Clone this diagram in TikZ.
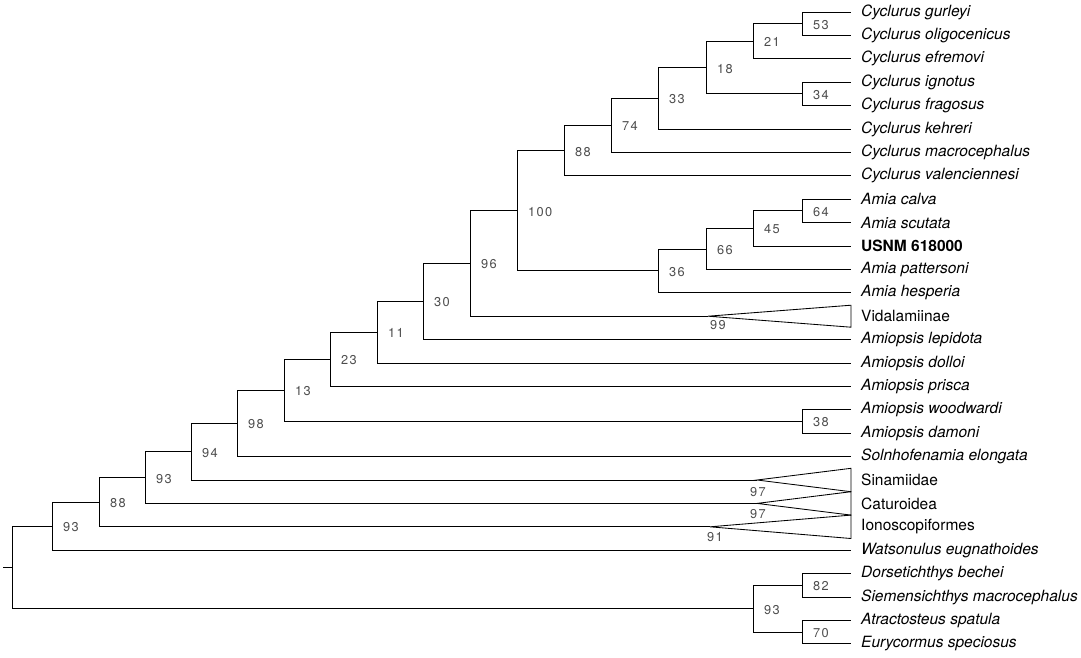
\documentclass[tikz,border=0pt]{standalone}
\usepackage{fontspec}
\setmainfont{TeX Gyre Heros}
\newfontfamily\bootfont[LetterSpace=10]{TeX Gyre Heros}
\begin{document}
\begin{tikzpicture}[x=1pt,y=-23.4pt,
  br/.style={line width=0.85pt, black},
  tri/.style={line width=0.85pt, black, line join=miter},
  taxon/.style={anchor=west, inner sep=0pt, font=\fontsize{15.5}{17}\selectfont\itshape},
  grp/.style={anchor=west, inner sep=0pt, font=\fontsize{15.5}{17}\selectfont},
  usnm/.style={anchor=west, inner sep=0pt, font=\fontsize{15.5}{17}\selectfont\bfseries},
  bs/.style={anchor=west, inner sep=0pt, text=black!70, font=\bootfont\fontsize{12.8}{14}\selectfont, xshift=11pt, yshift=-1pt},
  tbs/.style={anchor=west, inner sep=0pt, text=black!70, font=\bootfont\fontsize{12.8}{14}\selectfont}]
\useasboundingbox (0,-0.51282) rectangle (1081,27.5641);

% leaf tips
\foreach \r in {0,...,27} { \coordinate (t\r) at (851,\r); }

% leaf labels
\node[taxon] (l0)  at (861,0)  {Cyclurus gurleyi};
\node[taxon] (l1)  at (861,1)  {Cyclurus oligocenicus};
\node[taxon] (l2)  at (861,2)  {Cyclurus efremovi};
\node[taxon] (l3)  at (861,3)  {Cyclurus ignotus};
\node[taxon] (l4)  at (861,4)  {Cyclurus fragosus};
\node[taxon] (l5)  at (861,5)  {Cyclurus kehreri};
\node[taxon] (l6)  at (861,6)  {Cyclurus macrocephalus};
\node[taxon] (l7)  at (861,7)  {Cyclurus valenciennesi};
\node[taxon] (l8)  at (861,8)  {Amia calva};
\node[taxon] (l9)  at (861,9)  {Amia scutata};
\node[usnm]  (l10) at (861,10) {USNM 618000};
\node[taxon] (l11) at (861,11) {Amia pattersoni};
\node[taxon] (l12) at (861,12) {Amia hesperia};
\node[grp]   (l13) at (861,13) {Vidalamiinae};
\node[taxon] (l14) at (861,14) {Amiopsis lepidota};
\node[taxon] (l15) at (861,15) {Amiopsis dolloi};
\node[taxon] (l16) at (861,16) {Amiopsis prisca};
\node[taxon] (l17) at (861,17) {Amiopsis woodwardi};
\node[taxon] (l18) at (861,18) {Amiopsis damoni};
\node[taxon] (l19) at (861,19) {Solnhofenamia elongata};
\node[grp]   (l20) at (861,20) {Sinamiidae};
\node[grp]   (l21) at (861,21) {Caturoidea};
\node[grp]   (l22) at (861,22) {Ionoscopiformes};
\node[taxon] (l23) at (861,23) {Watsonulus eugnathoides};
\node[taxon] (l24) at (861,24) {Dorsetichthys bechei};
\node[taxon] (l25) at (861,25) {Siemensichthys macrocephalus};
\node[taxon] (l26) at (861,26) {Atractosteus spatula};
\node[taxon] (l27) at (861,27) {Eurycormus speciosus};

% internal nodes
\coordinate (n53)  at (802,0.5);
\coordinate (n21)  at (753,1.25);
\coordinate (n34)  at (802,3.5);
\coordinate (n18)  at (706,2.375);
\coordinate (n33)  at (658,3.6875);
\coordinate (n74)  at (611,4.84375);
\coordinate (n88a) at (564,5.921875);
\coordinate (n64)  at (802,8.5);
\coordinate (n45)  at (753,9.25);
\coordinate (n66)  at (706,10.125);
\coordinate (n36)  at (658,11.0625);
\coordinate (n100) at (517,8.4922);
\coordinate (vid)  at (708,13);
\coordinate (n96)  at (470,10.7461);
\coordinate (n30)  at (423,12.373);
\coordinate (n11)  at (377,13.6865);
\coordinate (n23)  at (330,14.8433);
\coordinate (n38)  at (802,17.5);
\coordinate (n13)  at (284,16.1716);
\coordinate (n98)  at (237,17.5858);
\coordinate (sin)  at (757,20);
\coordinate (n94)  at (191,18.7929);
\coordinate (cat)  at (757,21);
\coordinate (n93b) at (145,19.8965);
\coordinate (iono) at (710,22);
\coordinate (n88b) at (99,20.9482);
\coordinate (n93c) at (52,21.9741);
\coordinate (n82)  at (802,24.5);
\coordinate (n70)  at (802,26.5);
\coordinate (n93d) at (753,25.5);
\coordinate (root) at (12,23.737);
\coordinate (stub) at (3,23.737);

% triangle corners
\coordinate (vidA) at (851,12.53);
\coordinate (vidB) at (851,13.47);
\coordinate (sinA) at (851,19.5);
\coordinate (sinB) at (851,20.5);
\coordinate (catA) at (851,20.5);
\coordinate (catB) at (851,21.5);
\coordinate (ionA) at (851,21.5);
\coordinate (ionB) at (851,22.5);

% branches
\draw[br] (n53) |- (t0);   \draw[br] (n53) |- (t1);
\draw[br] (n21) |- (n53);  \draw[br] (n21) |- (t2);
\draw[br] (n34) |- (t3);   \draw[br] (n34) |- (t4);
\draw[br] (n18) |- (n21);  \draw[br] (n18) |- (n34);
\draw[br] (n33) |- (n18);  \draw[br] (n33) |- (t5);
\draw[br] (n74) |- (n33);  \draw[br] (n74) |- (t6);
\draw[br] (n88a) |- (n74); \draw[br] (n88a) |- (t7);
\draw[br] (n64) |- (t8);   \draw[br] (n64) |- (t9);
\draw[br] (n45) |- (n64);  \draw[br] (n45) |- (t10);
\draw[br] (n66) |- (n45);  \draw[br] (n66) |- (t11);
\draw[br] (n36) |- (n66);  \draw[br] (n36) |- (t12);
\draw[br] (n100) |- (n88a); \draw[br] (n100) |- (n36);
\draw[br] (n96) |- (n100); \draw[br] (n96) |- (vid);
\draw[br] (n30) |- (n96);  \draw[br] (n30) |- (t14);
\draw[br] (n11) |- (n30);  \draw[br] (n11) |- (t15);
\draw[br] (n23) |- (n11);  \draw[br] (n23) |- (t16);
\draw[br] (n38) |- (t17);  \draw[br] (n38) |- (t18);
\draw[br] (n13) |- (n23);  \draw[br] (n13) |- (n38);
\draw[br] (n98) |- (n13);  \draw[br] (n98) |- (t19);
\draw[br] (n94) |- (n98);  \draw[br] (n94) |- (sin);
\draw[br] (n93b) |- (n94); \draw[br] (n93b) |- (cat);
\draw[br] (n88b) |- (n93b); \draw[br] (n88b) |- (iono);
\draw[br] (n93c) |- (n88b); \draw[br] (n93c) |- (t23);
\draw[br] (n82) |- (t24);  \draw[br] (n82) |- (t25);
\draw[br] (n70) |- (t26);  \draw[br] (n70) |- (t27);
\draw[br] (n93d) |- (n82); \draw[br] (n93d) |- (n70);
\draw[br] (root) |- (n93c); \draw[br] (root) |- (n93d);
\draw[br] (stub) -- (root);

% collapsed clades
\draw[tri] (vid) -- (vidA) -- (vidB) -- cycle;
\draw[tri] (sin) -- (sinA) -- (sinB) -- cycle;
\draw[tri] (cat) -- (catA) -- (catB) -- cycle;
\draw[tri] (iono) -- (ionA) -- (ionB) -- cycle;

% support values
\node[bs] (b53)  at (n53)  {53};
\node[bs] (b21)  at (n21)  {21};
\node[bs] (b34)  at (n34)  {34};
\node[bs] (b18)  at (n18)  {18};
\node[bs] (b33)  at (n33)  {33};
\node[bs] (b74)  at (n74)  {74};
\node[bs] (b88a) at (n88a) {88};
\node[bs] (b64)  at (n64)  {64};
\node[bs] (b45)  at (n45)  {45};
\node[bs] (b66)  at (n66)  {66};
\node[bs] (b36)  at (n36)  {36};
\node[bs] (b100) at (n100) {100};
\node[bs] (b96)  at (n96)  {96};
\node[bs] (b30)  at (n30)  {30};
\node[bs] (b11)  at (n11)  {11};
\node[bs] (b23)  at (n23)  {23};
\node[bs] (b38)  at (n38)  {38};
\node[bs] (b13)  at (n13)  {13};
\node[bs] (b98)  at (n98)  {98};
\node[bs] (b94)  at (n94)  {94};
\node[bs] (b93b) at (n93b) {93};
\node[bs] (b88b) at (n88b) {88};
\node[bs] (b93c) at (n93c) {93};
\node[bs] (b82)  at (n82)  {82};
\node[bs] (b70)  at (n70)  {70};
\node[bs] (b93d) at (n93d) {93};
\node[tbs] (b99)  at (710,13.38) {99};
\node[tbs] (b97a) at (750,20.5)  {97};
\node[tbs] (b97b) at (750,21.45) {97};
\node[tbs] (b91)  at (707,22.44) {91};
\end{tikzpicture}
\end{document}
